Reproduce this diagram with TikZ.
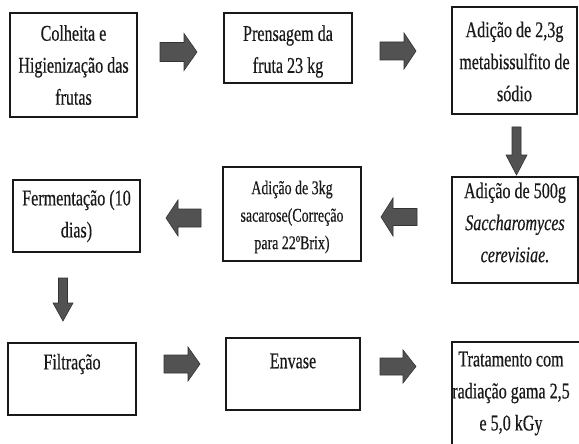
\documentclass[tikz,border=0pt]{standalone}
\usepackage{fontspec}
\newfontfamily\tnr[FakeStretch=0.715,FakeBold=0.4]{Liberation Serif}
\tikzset{
  box/.style={draw=black!90, line width=1.2pt, fill=white, inner sep=0pt},
  txt/.style={align=center, inner sep=0pt, font=\tnr\fontsize{22.5}{32}\selectfont, text=black!90},
  txts/.style={align=center, inner sep=0pt, font=\tnr\fontsize{19.5}{27.5}\selectfont, text=black!90},
  blk/.style={fill=black!68, draw=black!80, line width=0.6pt, line join=miter}
}
\newcommand\hblk[6]{\draw[blk] (#1,#4-#5) -- (#2,#4-#5) -- (#2,#4-#6) -- (#3,#4) -- (#2,#4+#6) -- (#2,#4+#5) -- (#1,#4+#5) -- cycle;}
\newcommand\vblk[6]{\draw[blk] (#4-#5,#1) -- (#4-#5,#2) -- (#4-#6,#2) -- (#4,#3) -- (#4+#6,#2) -- (#4+#5,#2) -- (#4+#5,#1) -- cycle;}
\begin{document}
\begin{tikzpicture}[x=1pt,y=-1pt]
\useasboundingbox[fill=white] (0,0) rectangle (579,444);
% boxes
\node[box, minimum width=127pt, minimum height=104pt] (b1) at (73.5,65) {};
\node[box, minimum width=128pt, minimum height=70pt] (b2) at (288,48) {};
\node[box, minimum width=125pt, minimum height=107pt] (b3) at (514.5,60.5) {};
\node[box, minimum width=126pt, minimum height=106pt] (b4) at (515,230) {};
\node[box, minimum width=138pt, minimum height=94pt] (b5) at (292,214) {};
\node[box, minimum width=127pt, minimum height=72pt] (b6) at (76.5,216) {};
\node[box, minimum width=128pt, minimum height=72pt] (b7) at (72,379) {};
\node[box, minimum width=134pt, minimum height=72pt] (b8) at (293,374) {};
\node[box, minimum width=130pt, minimum height=108pt] (b9) at (517,396) {};
% texts
\node[txt] (t1) at (b1.center) {Colheita e\\Higienização das\\frutas};
\node[txt] (t2) at (288,51.5) {Prensagem da\\fruta 23 kg};
\node[txt] (t3) at (514.5,61.5) {Adição de 2,3g\\metabissulfito de\\sódio};
\node[txt] (t4) at (515,222.5) {Adição de 500g\\\textit{Saccharomyces}\\\textit{cerevisiae.}};
\node[txts] (t5) at (292,217) {Adição de 3kg\\sacarose(Correção\\para 22ºBrix)};
\node[txt] (t6) at (76.5,216) {Fermentação (10\\dias)};
\node[txt] (t7) at (72,364) {Filtração};
\node[txt] (t8) at (293,361) {Envase};
\node[txt] (t9) at (511,393.5) {Tratamento com\\radiação gama 2,5\\e 5,0 kGy};
% block arrows
\hblk{160}{184}{197}{52}{9.5}{18.5}
\hblk{380}{404}{416}{51}{9}{18}
\vblk{127}{155}{175}{516.5}{4.5}{10.5}
\hblk{417}{393}{381}{217}{8.5}{19}
\hblk{201}{178}{166}{218}{9}{18}
\vblk{278}{303}{321}{63}{4.5}{10}
\hblk{164}{188}{200}{364}{9}{17}
\hblk{380}{403}{416}{366.5}{8.5}{16.5}
\end{tikzpicture}
\end{document}
